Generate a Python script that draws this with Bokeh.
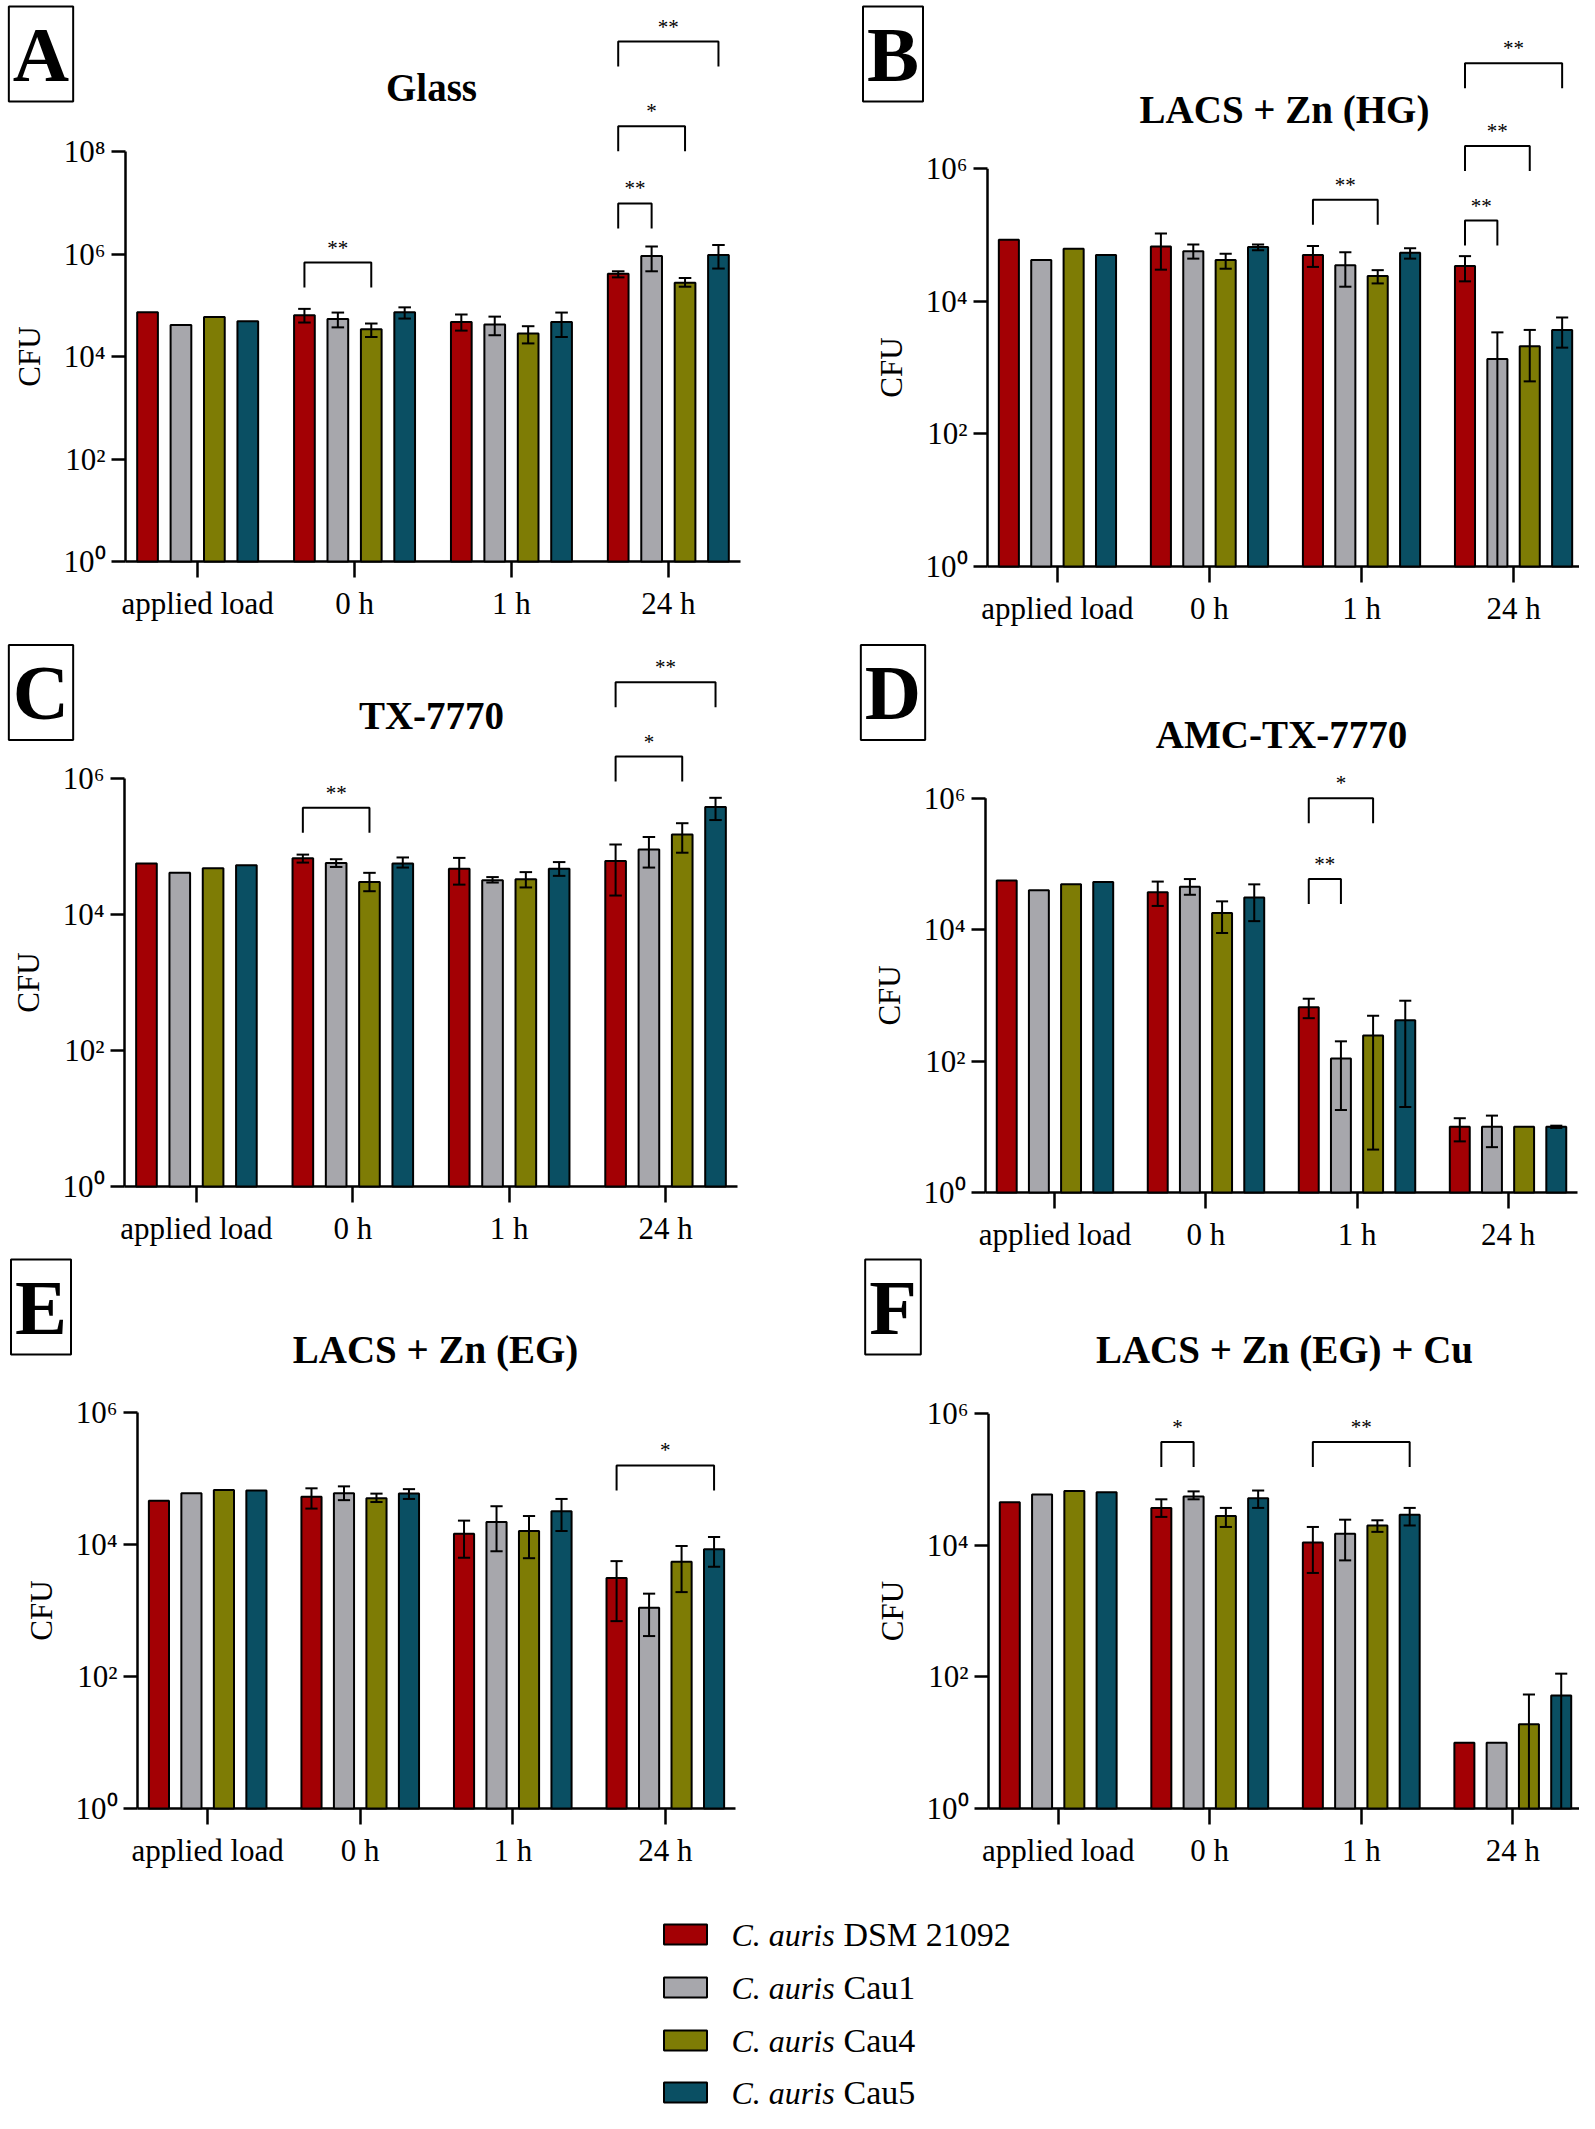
import math
from bokeh.plotting import figure
from bokeh.models import Range1d, FixedTicker, Label, CustomJSTickFormatter
from bokeh.layouts import column, row
from bokeh.embed import file_html
from bokeh.resources import INLINE
from bokeh.core.properties import value

nan = float("nan")
FONT = "Liberation Serif"

# ---------------- data ----------------
GROUPS = ["applied load", "0 h", "1 h", "24 h"]
STRAINS = ["DSM 21092", "Cau1", "Cau4", "Cau5"]
COLORS = ["#A30004", "#A7A7AC", "#7E7C05", "#0A4F63"]
Y_TICKS = [1, 1e2, 1e4, 1e6, 1e8]
Y_LABELS = ["10\u2070", "10\u00b2", "10\u2074", "10\u2076", "10\u2078"]

# rows: DSM 21092, Cau1, Cau4, Cau5 ; columns: applied load, 0 h, 1 h, 24 h
# LOW = 0 means the lower SD falls below zero (whisker runs down to the axis)
A_MEAN = [[7.3e4, 6.4e4, 4.7e4, 4.1e5],
          [4.1e4, 5.4e4, 4.2e4, 9.1e5],
          [5.9e4, 3.4e4, 2.8e4, 2.75e5],
          [4.9e4, 7.3e4, 4.7e4, 9.6e5]]
A_LOW = [[nan, 4.6e4, 3.2e4, 3.5e5],
         [nan, 3.7e4, 2.6e4, 4.6e5],
         [nan, 2.4e4, 1.8e4, 2.3e5],
         [nan, 5.5e4, 2.4e4, 5.2e5]]
A_HIGH = [[nan, 8.5e4, 6.6e4, 4.6e5],
          [nan, 7.2e4, 6.0e4, 1.4e6],
          [nan, 4.4e4, 3.9e4, 3.4e5],
          [nan, 9.1e4, 7.2e4, 1.5e6]]

B_MEAN = [[8.5e4, 6.7e4, 5.0e4, 3.4e4],
          [4.2e4, 5.7e4, 3.5e4, 1.35e3],
          [6.2e4, 4.2e4, 2.4e4, 2.1e3],
          [5.0e4, 6.6e4, 5.4e4, 3.7e3]]
B_LOW = [[nan, 3.0e4, 3.3e4, 2.0e4],
         [nan, 4.4e4, 1.66e4, 0],
         [nan, 3.1e4, 1.86e4, 6.2e2],
         [nan, 5.9e4, 4.4e4, 2.0e3]]
B_HIGH = [[nan, 1.05e5, 6.8e4, 4.8e4],
          [nan, 7.2e4, 5.5e4, 3.4e3],
          [nan, 5.2e4, 2.95e4, 3.7e3],
          [nan, 7.2e4, 6.3e4, 5.7e3]]

C_MEAN = [[5.6e4, 6.7e4, 4.7e4, 6.1e4],
          [4.1e4, 5.7e4, 3.2e4, 9.0e4],
          [4.8e4, 3.0e4, 3.3e4, 1.5e5],
          [5.3e4, 5.6e4, 4.7e4, 3.8e5]]
C_LOW = [[nan, 5.8e4, 2.75e4, 1.9e4],
         [nan, 5.0e4, 2.95e4, 4.9e4],
         [nan, 2.2e4, 2.5e4, 8.1e4],
         [nan, 4.9e4, 3.7e4, 2.45e5]]
C_HIGH = [[nan, 7.6e4, 6.8e4, 1.07e5],
          [nan, 6.5e4, 3.55e4, 1.38e5],
          [nan, 4.1e4, 4.2e4, 2.2e5],
          [nan, 6.9e4, 5.9e4, 5.2e5]]

D_MEAN = [[5.6e4, 3.7e4, 6.6e2, 10],
          [4.0e4, 4.5e4, 1.1e2, 10],
          [4.9e4, 1.8e4, 2.45e2, 10],
          [5.3e4, 3.1e4, 4.2e2, 10]]
D_LOW = [[nan, 2.3e4, 4.5e2, 6.0],
         [nan, 3.4e4, 18, 4.9],
         [nan, 8.9e3, 4.5, nan],
         [nan, 1.35e4, 20, 9.6]]
D_HIGH = [[nan, 5.4e4, 8.9e2, 13.5],
          [nan, 5.9e4, 2.0e2, 14.8],
          [nan, 2.7e4, 4.9e2, nan],
          [nan, 4.9e4, 8.3e2, 10.4]]

E_MEAN = [[4.6e4, 5.3e4, 1.45e4, 3.1e3],
          [6.0e4, 6.0e4, 2.2e4, 1.1e3],
          [6.7e4, 5.0e4, 1.6e4, 5.5e3],
          [6.6e4, 5.9e4, 3.2e4, 8.5e3]]
E_LOW = [[nan, 3.5e4, 6.3e3, 6.9e2],
         [nan, 4.7e4, 7.9e3, 4.1e2],
         [nan, 4.4e4, 6.2e3, 1.9e3],
         [nan, 4.9e4, 1.6e4, 4.6e3]]
E_HIGH = [[nan, 7.1e4, 2.3e4, 5.6e3],
          [nan, 7.6e4, 3.8e4, 1.8e3],
          [nan, 5.9e4, 2.7e4, 9.5e3],
          [nan, 6.9e4, 4.9e4, 1.3e4]]

F_MEAN = [[4.5e4, 3.7e4, 1.1e4, 10],
          [5.9e4, 5.5e4, 1.5e4, 10],
          [6.7e4, 2.8e4, 2.0e4, 19],
          [6.4e4, 5.2e4, 2.9e4, 52]]
F_LOW = [[nan, 2.7e4, 3.8e3, nan],
         [nan, 5.0e4, 5.9e3, nan],
         [nan, 1.9e4, 1.6e4, 0],
         [nan, 3.7e4, 2.0e4, 0]]
F_HIGH = [[nan, 5.0e4, 1.9e4, nan],
          [nan, 6.6e4, 2.45e4, nan],
          [nan, 3.7e4, 2.4e4, 54],
          [nan, 6.8e4, 3.7e4, 112]]

# significance brackets: (group, first strain, second strain, label, bracket height in CFU)
A_BRACKETS = [(1, 0, 2, "**", 6.8e5), (3, 0, 1, "**", 9.7e6), (3, 0, 2, "*", 3.1e8), (3, 0, 3, "**", 1.4e10)]
B_BRACKETS = [(2, 0, 2, "**", 3.4e5), (3, 0, 1, "**", 1.65e5), (3, 0, 2, "**", 2.2e6), (3, 0, 3, "**", 3.9e7)]
C_BRACKETS = [(1, 0, 2, "**", 3.7e5), (3, 0, 2, "*", 2.1e6), (3, 0, 3, "**", 2.6e7)]
D_BRACKETS = [(2, 0, 1, "**", 5.9e4), (2, 0, 2, "*", 1.0e6)]
E_BRACKETS = [(3, 0, 3, "*", 1.58e5)]
F_BRACKETS = [(1, 0, 1, "*", 3.7e5), (2, 0, 3, "**", 3.7e5)]

TITLES = ["Glass", "LACS + Zn (HG)", "TX-7770", "AMC-TX-7770", "LACS + Zn (EG)", "LACS + Zn (EG) + Cu"]
LETTERS = ["A", "B", "C", "D", "E", "F"]

# ---------------- layout (page pixels) ----------------
XR = (-0.46, 3.46)          # data extent of the x axis line
PITCH = 0.213
BAR_W = 0.132
OFFS = [-1.5 * PITCH, -0.5 * PITCH, 0.5 * PITCH, 1.5 * PITCH]

GEOM = [
    dict(x0=0, y0=0, w=789, h=627, fl=125, fr=740, base=561, ppd=51.25, top=8, t=(431, 87), l=(40.5, 53.5)),
    dict(x0=789, y0=0, w=790, h=627, fl=987, fr=1583, base=566, ppd=66.3, top=6, t=(1284, 109), l=(892.5, 53.5)),
    dict(x0=0, y0=627, w=789, h=625, fl=124, fr=737, base=1186, ppd=68.0, top=6, t=(431, 715), l=(40.5, 692)),
    dict(x0=789, y0=627, w=790, h=625, fl=985, fr=1577, base=1192, ppd=65.7, top=6, t=(1281, 734), l=(892.5, 692)),
    dict(x0=0, y0=1252, w=789, h=628, fl=137, fr=735, base=1808, ppd=66.0, top=6, t=(435, 1349), l=(40.5, 1306.5)),
    dict(x0=789, y0=1252, w=790, h=628, fl=988, fr=1582, base=1808, ppd=65.8, top=6, t=(1284, 1349), l=(892.5, 1306.5)),
]


def make_panel(g, title, letter, mean, low, high, brackets):
    fl, fr, base, ppd = g["fl"], g["fr"], g["base"], g["ppd"]
    x0, y0, w, h = g["x0"], g["y0"], g["w"], g["h"]
    span = XR[1] - XR[0]

    def xd(px):
        return XR[0] + (px - fl) / (fr - fl) * span

    def yd(py):
        return 10 ** ((base - py) / ppd)

    p = figure(width=w, height=h, x_range=Range1d(xd(x0), xd(x0 + w)),
               y_range=Range1d(yd(y0 + h), yd(y0)),
               y_axis_type="log", output_backend="svg", toolbar_location=None,
               min_border_left=0, min_border_right=0, min_border_top=0, min_border_bottom=0)
    p.outline_line_color = None
    p.grid.visible = False
    p.background_fill_color = "white"
    p.border_fill_color = "white"

    x_axis_y = 1
    y_axis_x = XR[0]

    xa = p.xaxis[0]
    xa.fixed_location = x_axis_y
    xa.ticker = FixedTicker(ticks=[0, 1, 2, 3])
    xa.formatter = CustomJSTickFormatter(args=dict(labels=GROUPS),
                                         code="const i = Math.round(tick); return (i >= 0 && i < labels.length) ? labels[i] : '';")
    xa.axis_line_color = None
    xa.major_tick_line_width = 2.5
    xa.major_tick_line_color = "black"
    xa.major_tick_out = 16
    xa.major_tick_in = 0
    xa.minor_tick_line_color = None
    xa.major_label_text_font = FONT
    xa.major_label_text_font_size = "31px"
    xa.major_label_text_color = "black"
    xa.major_label_standoff = 8

    top_tick = 10 ** g["top"]
    ya = p.yaxis[0]
    ya.fixed_location = y_axis_x
    ya.ticker = FixedTicker(ticks=[t for t in Y_TICKS if t <= top_tick])
    ya.formatter = CustomJSTickFormatter(args=dict(vals=Y_TICKS, labels=Y_LABELS), code="""
        for (let i = 0; i < vals.length; i++) {
            if (Math.abs(Math.log10(tick) - Math.log10(vals[i])) < 1e-6) return labels[i];
        }
        return '';""")
    ya.axis_line_color = None
    ya.major_tick_line_width = 2.5
    ya.major_tick_line_color = "black"
    ya.major_tick_out = 14
    ya.major_tick_in = 0
    ya.minor_tick_line_color = None
    ya.major_label_text_font = FONT
    ya.major_label_text_font_size = "31px"
    ya.major_label_text_color = "black"
    ya.major_label_standoff = 6

    # axis lines: y spine up to the top tick, x spine across the groups
    p.segment(x0=[y_axis_x, y_axis_x], y0=[x_axis_y, x_axis_y], x1=[y_axis_x, XR[1]], y1=[top_tick, x_axis_y],
              line_color="black", line_width=2.5)

    # bars
    for s in range(4):
        p.vbar(x=[gi + OFFS[s] for gi in range(4)], top=mean[s], bottom=x_axis_y, width=BAR_W,
               fill_color=COLORS[s], line_color="black", line_width=2)

    # error bars
    cap = 0.04
    ex0, ey0, ex1, ey1 = [], [], [], []
    for s in range(4):
        for gi in range(4):
            hi, lo = high[s][gi], low[s][gi]
            if not math.isfinite(hi):
                continue
            x = gi + OFFS[s]
            lo_d = lo if lo > 1 else x_axis_y
            ex0 += [x, x - cap]; ey0 += [lo_d, hi]; ex1 += [x, x + cap]; ey1 += [hi, hi]
            if lo > 1:
                ex0.append(x - cap); ey0.append(lo); ex1.append(x + cap); ey1.append(lo)
    p.segment(x0=ex0, y0=ey0, x1=ex1, y1=ey1, line_color="black", line_width=2)

    # significance brackets
    bxs, bys, tx, ty, tt = [], [], [], [], []
    for (gi, i, j, txt, top) in brackets:
        xa_, xb_ = gi + OFFS[i], gi + OFFS[j]
        leg = top / 10 ** (25 / ppd)
        bxs.append([xa_, xa_, xb_, xb_]); bys.append([leg, top, top, leg])
        tx.append((xa_ + xb_) / 2); ty.append(top * 10 ** (15 / ppd)); tt.append(txt)
    p.multi_line(bxs, bys, line_color="black", line_width=2)
    p.text(x=tx, y=ty, text=tt, text_font=value(FONT), text_font_size=value("21px"),
           text_align="center", text_baseline="middle", text_color="black")

    # title, panel letter, axis label
    p.add_layout(Label(x=xd(g["t"][0]), y=yd(g["t"][1]), text=title, text_font=FONT,
                       text_font_size="39px", text_font_style="bold", text_align="center",
                       text_baseline="middle", text_color="black"))
    p.add_layout(Label(x=xd(g["l"][0]), y=yd(g["l"][1]), text=letter, text_font=FONT,
                       text_font_size="78px", text_font_style="bold", text_align="center",
                       text_baseline="middle", text_color="black",
                       border_line_color="black", border_line_width=2,
                       background_fill_color="white", padding=4))
    top_px = base - g["top"] * ppd
    p.add_layout(Label(x=xd(fl - 96), y=yd((base + top_px) / 2), text="CFU", text_font=FONT,
                       text_font_size="31px", angle=math.pi / 2, text_align="center",
                       text_baseline="middle", text_color="black"))
    return p


DATA = [(A_MEAN, A_LOW, A_HIGH, A_BRACKETS), (B_MEAN, B_LOW, B_HIGH, B_BRACKETS),
        (C_MEAN, C_LOW, C_HIGH, C_BRACKETS), (D_MEAN, D_LOW, D_HIGH, D_BRACKETS),
        (E_MEAN, E_LOW, E_HIGH, E_BRACKETS), (F_MEAN, F_LOW, F_HIGH, F_BRACKETS)]

panels = [make_panel(GEOM[k], TITLES[k], LETTERS[k], *DATA[k]) for k in range(6)]

# ---------------- legend ----------------
leg = figure(width=1579, height=233, x_range=Range1d(0, 1579), y_range=Range1d(2113, 1880),
             output_backend="svg", toolbar_location=None, x_axis_location=None, y_axis_location=None,
             min_border=0)
leg.outline_line_color = None
leg.grid.visible = False
rows_y = [1934, 1987, 2040, 2092]
leg.rect(x=[685] * 4, y=rows_y, width=43, height=20, fill_color=COLORS, line_color="black", line_width=2)
leg.text(x=[731] * 4, y=rows_y, text=["C. auris"] * 4, text_font=value(FONT), text_font_size=value("32px"),
         text_font_style="italic", text_align="left", text_baseline="middle", text_color="black")
leg.text(x=[843] * 4, y=rows_y, text=STRAINS, text_font=value(FONT), text_font_size=value("34px"),
         text_align="left", text_baseline="middle", text_color="black")

layout = column(row(panels[0], panels[1]), row(panels[2], panels[3]), row(panels[4], panels[5]), leg)
open("out.html", "w").write(file_html(layout, INLINE))
